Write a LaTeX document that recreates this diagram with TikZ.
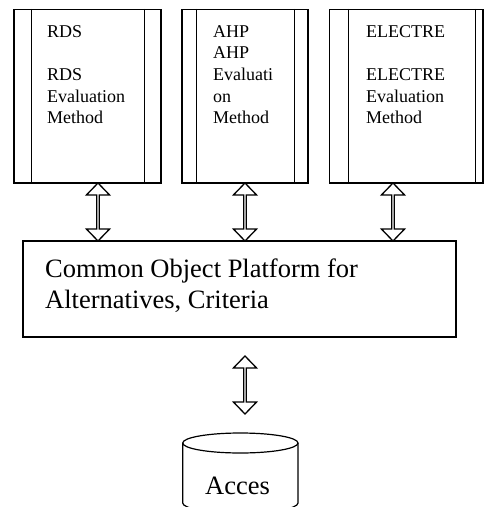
\documentclass[tikz,border=0pt]{standalone}
\usepackage{fontspec}
\setmainfont{Liberation Serif}
\usetikzlibrary{shapes.arrows,positioning}
\begin{document}
\begin{tikzpicture}[x=1pt,y=-1pt,
  box/.style={draw,line width=1.2pt,inner sep=0pt,fill=white},
  methtext/.style={anchor=north west,inner sep=0pt,align=left,font=\fontsize{18}{21.7}\selectfont},
  plattext/.style={anchor=north west,inner sep=0pt,align=left,font=\fontsize{26.5}{31}\selectfont},
  dblarrow/.style={draw,line width=1.3pt,double arrow,double arrow head extend=5.5pt,
     double arrow tip angle=88,minimum width=23pt,inner sep=0pt,rotate=90}]
\useasboundingbox (0,0) rectangle (484,507);
\clip (0,0) rectangle (484,507);
% method boxes
\node[box,minimum width=147pt,minimum height=173.5pt] (b1) at (87.5,96.25) {};
\node[box,minimum width=126pt,minimum height=173.5pt] (b2) at (245,96.25) {};
\node[box,minimum width=153.5pt,minimum height=173.5pt] (b3) at (406.25,96.25) {};
\draw[line width=1.2pt] ([xshift=18pt]b1.north west) -- ([xshift=18pt]b1.south west);
\draw[line width=1.2pt] ([xshift=-17.5pt]b1.north east) -- ([xshift=-17.5pt]b1.south east);
\draw[line width=1.2pt] ([xshift=15pt]b2.north west) -- ([xshift=15pt]b2.south west);
\draw[line width=1.2pt] ([xshift=-14.5pt]b2.north east) -- ([xshift=-14.5pt]b2.south east);
\draw[line width=1.2pt] ([xshift=19.5pt]b3.north west) -- ([xshift=19.5pt]b3.south west);
\draw[line width=1.2pt] ([xshift=-8.5pt]b3.north east) -- ([xshift=-8.5pt]b3.south east);
\node[methtext] (t1) at (47,25) {RDS\\[21.7pt]RDS\\Evaluation\\Method};
\node[methtext] (t2) at (213,25) {AHP\\AHP\\Evaluati\\on\\Method};
\node[methtext] (t3) at (366,25) {ELECTRE\\[21.7pt]ELECTRE\\Evaluation\\Method};
% platform
\node[box,minimum width=433pt,minimum height=96pt] (p) at (239.5,289) {};
\node[plattext] (pt) at (45,259) {Common Object Platform for\\Alternatives, Criteria};
% arrows
\node[dblarrow,minimum height=58pt] (a1) at (98,212) {};
\node[dblarrow,minimum height=58pt] (a2) at (245,212) {};
\node[dblarrow,minimum height=58pt] (a3) at (393,212) {};
\node[dblarrow,minimum height=58pt] (a4) at (245,385) {};
% database cylinder
\draw[line width=1.2pt,fill=white] (182.7,443) -- (182.7,503) arc[start angle=180,end angle=360,x radius=57.65pt,y radius=10pt] -- (298,443);
\draw[line width=1.2pt] (240.35,443) ellipse[x radius=57.65pt,y radius=10pt];
\node[anchor=base west,inner sep=0pt,font=\fontsize{26.5}{31}\selectfont] (db) at (205,494) {Acces};
\end{tikzpicture}
\end{document}
